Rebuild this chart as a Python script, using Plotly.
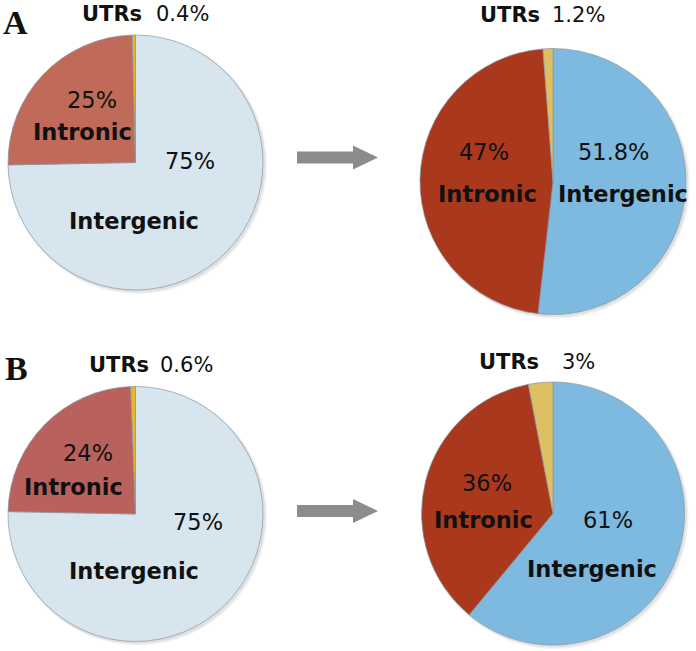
import plotly.graph_objects as go

W, H = 696, 651

labels = ["Intergenic", "Intronic", "UTRs"]
vals_A_before = [75, 25, 0.4]
vals_A_after = [51.8, 47, 1.2]
vals_B_before = [75, 24, 0.6]
vals_B_after = [61, 36, 3]

pct_A_before = ["75%", "25%", "0.4%"]
pct_A_after = ["51.8%", "47%", "1.2%"]
pct_B_before = ["75%", "24%", "0.6%"]
pct_B_after = ["61%", "36%", "3%"]

colors_A_before = ["#D7E5EF", "#C06A5A", "#E8B828"]
colors_after = ["#7EBAE0", "#A9381D", "#DCC062"]
colors_B_before = ["#D7E5EF", "#B9625D", "#E8B828"]

# pie placement in page pixels: (cx, cy, r)
pies = [
    (vals_A_before, colors_A_before, (135.5, 162.5, 127.5)),
    (vals_A_after, colors_after, (553, 181.5, 133)),
    (vals_B_before, colors_B_before, (135.5, 514, 127.5)),
    (vals_B_after, colors_after, (553, 513.5, 131.5)),
]

def px(x):
    return x / W

def py(y):
    return 1 - y / H

def clamp(v):
    return min(1.0, max(0.0, v))

fig = go.Figure()
shapes = []
for vals, cols, (cx, cy, r) in pies:
    fig.add_trace(go.Pie(
        labels=labels, values=vals, sort=False, direction="clockwise", rotation=0,
        marker=dict(colors=cols, line=dict(color="#8a96a3", width=0.7)),
        textinfo="none", hoverinfo="label+percent", showlegend=False,
        domain=dict(x=[clamp(px(cx - r)), clamp(px(cx + r))], y=[clamp(py(cy + r)), clamp(py(cy - r))]),
    ))
    for k, a in [(4, 0.05), (2.5, 0.07)]:
        shapes.append(dict(type="circle", xref="paper", yref="paper", layer="below",
                           x0=px(cx - r + 1), x1=px(cx + r + k), y0=py(cy + r + k), y1=py(cy - r + 1),
                           fillcolor=f"rgba(0,0,0,{a})", line=dict(width=0)))

# arrows
for ay in [157.5, 511]:
    shapes.append(dict(type="rect", xref="paper", yref="paper", layer="above",
                       x0=px(297), x1=px(356), y0=py(ay + 6), y1=py(ay - 6),
                       fillcolor="#8c8c8c", line=dict(width=0)))
    shapes.append(dict(type="path", xref="paper", yref="paper", layer="above",
                       path=f"M {px(353)},{py(ay - 12)} L {px(378)},{py(ay)} L {px(353)},{py(ay + 12)} Z",
                       fillcolor="#8c8c8c", line=dict(width=0)))

FONT = "DejaVu Sans"
ann = []

def txt(s, x, y, bold=False, size=22.5, family=FONT, xanchor="center"):
    ann.append(dict(text=f"<b>{s}</b>" if bold else s, x=px(x), y=py(y), xref="paper", yref="paper",
                    showarrow=False, xanchor=xanchor, yanchor="middle",
                    font=dict(family=family, size=size, color="#111111")))

# panel letters
txt("A", 15, 22, bold=True, size=34, family="Liberation Serif")
txt("B", 16, 368, bold=True, size=34, family="Liberation Serif")

T = 21
# A before
txt("UTRs", 80, 14, bold=True, size=T, xanchor="left")
txt(pct_A_before[2], 154, 14, size=T, xanchor="left")
txt(pct_A_before[1], 92, 100)
txt(labels[1], 82, 132, bold=True)
txt(pct_A_before[0], 190, 161)
txt(labels[0], 134, 221, bold=True)

# A after
txt("UTRs", 478, 15, bold=True, size=T, xanchor="left")
txt(pct_A_after[2], 550, 15, size=T, xanchor="left")
txt(pct_A_after[1], 484, 152)
txt(labels[1], 487, 194, bold=True)
txt(pct_A_after[0], 613, 152)
txt(labels[0], 623, 194, bold=True)

# B before
txt("UTRs", 87, 365, bold=True, size=T, xanchor="left")
txt(pct_B_before[2], 158, 365, size=T, xanchor="left")
txt(pct_B_before[1], 88, 453)
txt(labels[1], 73, 487, bold=True)
txt(pct_B_before[0], 198, 522)
txt(labels[0], 134, 571, bold=True)

# B after
txt("UTRs", 477, 362, bold=True, size=T, xanchor="left")
txt(pct_B_after[2], 560, 362, size=T, xanchor="left")
txt(pct_B_after[1], 487, 483)
txt(labels[1], 483, 520, bold=True)
txt(pct_B_after[0], 608, 520)
txt(labels[0], 592, 569, bold=True)

fig.update_layout(
    width=W, height=H, margin=dict(l=0, r=0, t=0, b=0),
    paper_bgcolor="white", plot_bgcolor="white",
    shapes=shapes, annotations=ann,
)

fig.write_html("out.html", config={"displayModeBar": False},
               post_script="document.body.style.margin='0px';document.body.style.overflow='hidden';")
